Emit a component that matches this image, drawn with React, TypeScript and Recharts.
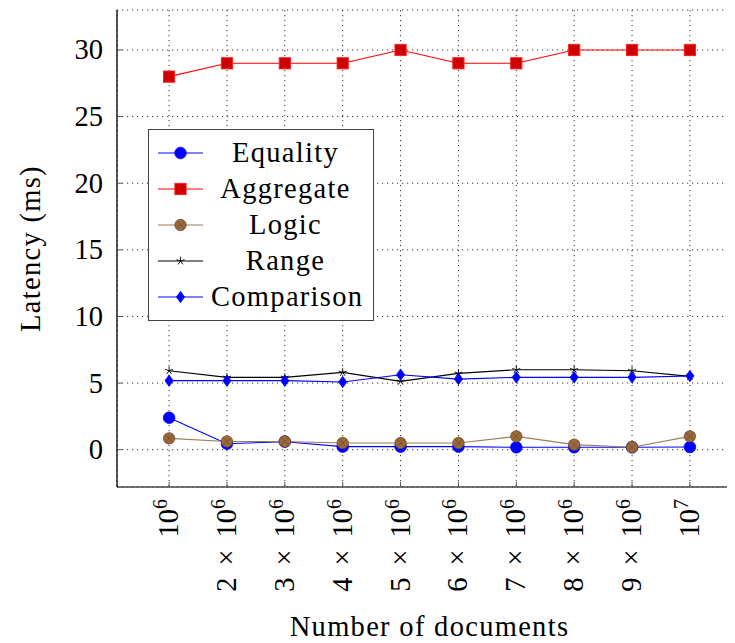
import React from "react";
import { LineChart, Line, XAxis, YAxis, CartesianGrid, Legend } from "recharts";

// ---- data ----
const docIndex = [1, 2, 3, 4, 5, 6, 7, 8, 9, 10];
const docLabels = [
  "10^6", "2 × 10^6", "3 × 10^6", "4 × 10^6", "5 × 10^6",
  "6 × 10^6", "7 × 10^6", "8 × 10^6", "9 × 10^6", "10^7",
];
const equality = [2.4, 0.45, 0.6, 0.23, 0.23, 0.23, 0.18, 0.18, 0.18, 0.2];
const aggregate = [28, 29, 29, 29, 30, 29, 29, 30, 30, 30];
const logic = [0.85, 0.62, 0.62, 0.5, 0.5, 0.5, 1.0, 0.38, 0.18, 1.0];
const range = [5.93, 5.43, 5.43, 5.8, 5.13, 5.73, 6.0, 6.0, 5.93, 5.5];
const comparison = [5.18, 5.18, 5.18, 5.08, 5.63, 5.3, 5.43, 5.43, 5.43, 5.53];
const yTicks = [0, 5, 10, 15, 20, 25, 30];
const yDomain = [-2.8, 33];
const xDomain = [0.1, 10.9];

const data = docIndex.map((x, i) => ({
  x,
  label: docLabels[i],
  equality: equality[i],
  aggregate: aggregate[i],
  logic: logic[i],
  range: range[i],
  comparison: comparison[i],
}));

const FONT = "'Liberation Serif', 'Times New Roman', serif";
const FS = 28.5;
const LS = 1.3;

// ---- markers ----
const BLUE = "#0000ff";
const RED = "#ff0000";
const LOGIC_LINE = "#9c7c5c";

function CircleMark({ cx, cy }: any) {
  if (cx == null || cy == null) return null;
  return <circle cx={cx} cy={cy} r={5.8} fill={BLUE} stroke={BLUE} strokeWidth={0.8} />;
}
function SquareMark({ cx, cy }: any) {
  if (cx == null || cy == null) return null;
  const h = 5.6;
  return <rect x={cx - h} y={cy - h} width={2 * h} height={2 * h} fill="#cc0000" stroke="#ff2020" strokeWidth={1} />;
}
function OtimesMark({ cx, cy }: any) {
  if (cx == null || cy == null) return null;
  const r = 5.7;
  const d = r * 0.7071;
  return (
    <g>
      <circle cx={cx} cy={cy} r={r} fill="#9b6a3a" stroke="#6f4a28" strokeWidth={0.8} />
      <line x1={cx - d} y1={cy - d} x2={cx + d} y2={cy + d} stroke="#6f4a28" strokeWidth={0.8} />
      <line x1={cx - d} y1={cy + d} x2={cx + d} y2={cy - d} stroke="#6f4a28" strokeWidth={0.8} />
    </g>
  );
}
function StarMark({ cx, cy }: any) {
  if (cx == null || cy == null) return null;
  const r = 4.2;
  const lines = [0, 1, 2, 3, 4].map((k) => {
    const a = (-90 + k * 72) * (Math.PI / 180);
    return <line key={k} x1={cx} y1={cy} x2={cx + r * Math.cos(a)} y2={cy + r * Math.sin(a)} stroke="#000" strokeWidth={0.9} />;
  });
  return <g>{lines}</g>;
}
function DiamondMark({ cx, cy }: any) {
  if (cx == null || cy == null) return null;
  const w = 4.2, h = 5.8;
  return <polygon points={`${cx},${cy - h} ${cx + w},${cy} ${cx},${cy + h} ${cx - w},${cy}`} fill={BLUE} stroke={BLUE} strokeWidth={0.6} />;
}

const series = [
  { key: "equality", name: "Equality", color: BLUE, Mark: CircleMark },
  { key: "aggregate", name: "Aggregate", color: RED, Mark: SquareMark },
  { key: "logic", name: "Logic", color: LOGIC_LINE, Mark: OtimesMark },
  { key: "range", name: "Range", color: "#000000", Mark: StarMark },
  { key: "comparison", name: "Comparison", color: BLUE, Mark: DiamondMark },
];

// ---- ticks ----
function XTick(props: any) {
  const { x, y, payload } = props;
  const idx = docIndex.indexOf(payload.value);
  const label = idx >= 0 ? docLabels[idx] : "";
  const [base, exp] = label.split("^");
  const parts = base.split(" × ");
  return (
    <g>
      <line x1={x} y1={y} x2={x} y2={y - 5} stroke="#555" strokeWidth={1} />
      <g transform={`translate(${x},${y + 12}) rotate(-90)`}>
        <text textAnchor="end" x={0} y={9} fontFamily={FONT} fontSize={FS} fill="#000">
          {parts.length > 1 ? (
            <>
              <tspan>{parts[0]}</tspan>
              <tspan dx={12}>×</tspan>
              <tspan dx={12}>{parts[1]}</tspan>
            </>
          ) : (
            <tspan>{parts[0]}</tspan>
          )}
          <tspan dy={-11} fontSize={FS * 0.7}>{exp}</tspan>
        </text>
      </g>
    </g>
  );
}
function TopTick(props: any) {
  const { x, y } = props;
  return <line x1={x} y1={y} x2={x} y2={y + 5} stroke="#555" strokeWidth={1} />;
}
function YTick(props: any) {
  const { x, y, payload } = props;
  return (
    <g>
      <line x1={x} y1={y} x2={x + 5} y2={y} stroke="#555" strokeWidth={1} />
      <text x={x - 14} y={y} dy={9.5} textAnchor="end" fontFamily={FONT} fontSize={FS} fill="#000">
        {payload.value}
      </text>
    </g>
  );
}

function YLabel(props: any) {
  const vb = props.viewBox || {};
  const cx = vb.x + 40;
  const cy = vb.y + vb.height / 2;
  return (
    <text transform={`translate(${cx},${cy}) rotate(-90)`} textAnchor="middle" fontFamily={FONT} fontSize={FS} letterSpacing={LS} fill="#000">
      Latency (ms)
    </text>
  );
}
function XLabel(props: any) {
  const vb = props.viewBox || {};
  const cx = vb.x + vb.width / 2;
  return (
    <text x={cx} y={vb.y + 149} textAnchor="middle" fontFamily={FONT} fontSize={FS} letterSpacing={LS} fill="#000">
      Number of documents
    </text>
  );
}

function LegendBox() {
  return (
    <div
      style={{
        boxSizing: "border-box",
        width: "100%",
        height: "100%",
        border: "1.3px solid #444",
        background: "#fff",
        padding: "5px 0 0 0",
      }}
    >
      {series.map((s) => (
        <div key={s.key} style={{ display: "flex", alignItems: "center", height: 36 }}>
          <svg width={56} height={20} style={{ marginLeft: 6, flex: "none" }}>
            <line x1={3} y1={10} x2={48} y2={10} stroke={s.color} strokeWidth={1.2} />
            <s.Mark cx={25.5} cy={10} />
          </svg>
          <div
            style={{
              flex: 1,
              textAlign: "center",
              fontFamily: FONT,
              fontSize: FS,
              letterSpacing: LS,
              lineHeight: "36px",
              color: "#000",
              marginRight: 13,
              whiteSpace: "nowrap",
            }}
          >
            {s.name}
          </div>
        </div>
      ))}
    </div>
  );
}

export default function App() {
  return (
    <div style={{ marginLeft: -8, marginTop: -8, width: 745, height: 650, position: "relative" }}>
      <LineChart width={745} height={650} data={data} margin={{ top: 10, right: 3, bottom: 0, left: 0 }}>
        <CartesianGrid stroke="#333" strokeDasharray="1.2 3.8" strokeWidth={1} />
        <XAxis
          dataKey="x"
          type="number"
          domain={xDomain}
          ticks={docIndex}
          interval={0}
          height={163}
          tickSize={0}
          tickMargin={0}
          tick={<XTick />}
          axisLine={{ stroke: "#444", strokeWidth: 1.4 }}
          tickLine={false}
          allowDataOverflow
          label={<XLabel />}
        />
        <XAxis
          xAxisId="top"
          orientation="top"
          dataKey="x"
          type="number"
          domain={xDomain}
          ticks={docIndex}
          interval={0}
          height={0}
          tickSize={0}
          tickMargin={0}
          tick={<TopTick />}
          axisLine={{ stroke: "#222", strokeWidth: 1.4 }}
          tickLine={false}
          allowDataOverflow
        />
        <YAxis
          type="number"
          domain={yDomain}
          ticks={yTicks}
          interval={0}
          width={117}
          tickSize={0}
          tickMargin={0}
          tick={<YTick />}
          axisLine={{ stroke: "#111", strokeWidth: 1.4 }}
          tickLine={false}
          allowDataOverflow
          label={<YLabel />}
        />
        <Legend
          layout="horizontal"
          verticalAlign="middle"
          align="center"
          wrapperStyle={{ left: 148, top: 129, width: 226, height: 192 }}
          content={() => <LegendBox />}
        />
        {series.map((s) => (
          <Line
            key={s.key}
            dataKey={s.key}
            name={s.name}
            stroke={s.color}
            strokeWidth={1.1}
            dot={(p: any) => <s.Mark key={`${s.key}-${p.index}`} cx={p.cx} cy={p.cy} />}
            activeDot={false}
            isAnimationActive={false}
            type="linear"
          />
        ))}
      </LineChart>
    </div>
  );
}
